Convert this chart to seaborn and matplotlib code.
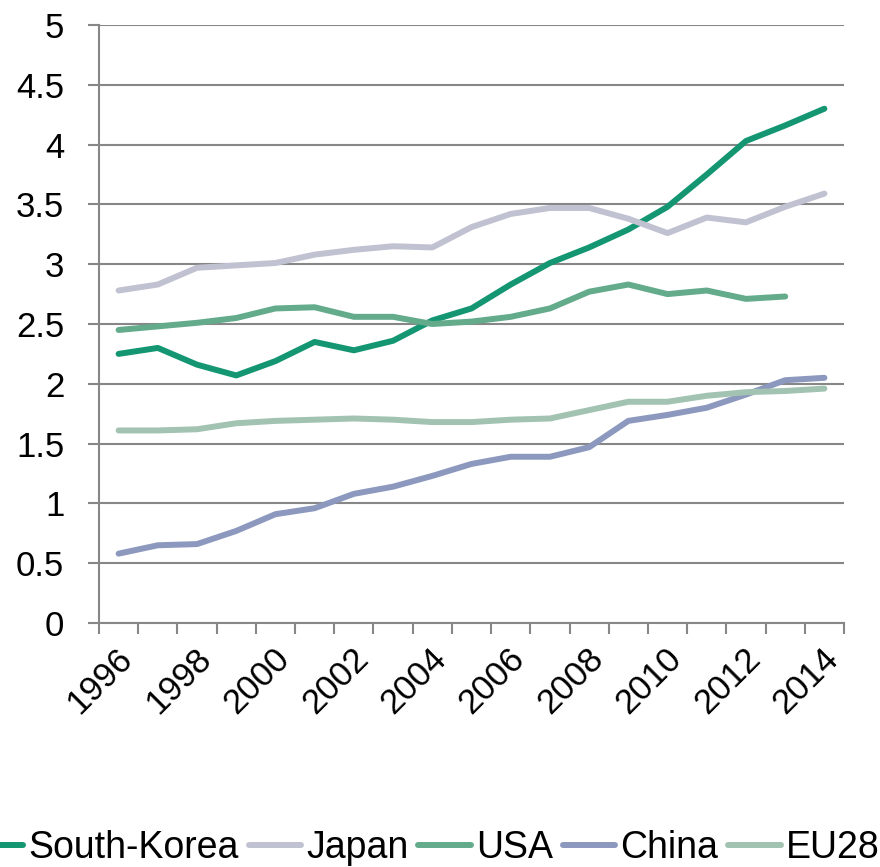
import numpy as np
import pandas as pd
import seaborn as sns
import matplotlib.pyplot as plt
import matplotlib.transforms as mtransforms

years = list(range(1996, 2015))
south_korea = [2.25, 2.30, 2.16, 2.07, 2.19, 2.35, 2.28, 2.36, 2.53, 2.63,
               2.83, 3.01, 3.14, 3.29, 3.48, 3.75, 4.03, 4.16, 4.30]
japan = [2.78, 2.83, 2.97, 2.99, 3.01, 3.08, 3.12, 3.15, 3.14, 3.31,
         3.42, 3.47, 3.47, 3.38, 3.26, 3.39, 3.35, 3.48, 3.59]
usa = [2.45, 2.48, 2.51, 2.55, 2.63, 2.64, 2.56, 2.56, 2.50, 2.52,
       2.56, 2.63, 2.77, 2.83, 2.75, 2.78, 2.71, 2.73, np.nan]
china = [0.58, 0.65, 0.66, 0.77, 0.91, 0.96, 1.08, 1.14, 1.23, 1.33,
         1.39, 1.39, 1.47, 1.69, 1.74, 1.80, 1.91, 2.03, 2.05]
eu28 = [1.61, 1.61, 1.62, 1.67, 1.69, 1.70, 1.71, 1.70, 1.68, 1.68,
        1.70, 1.71, 1.78, 1.85, 1.85, 1.90, 1.93, 1.94, 1.96]

series = ['South-Korea', 'Japan', 'USA', 'China', 'EU28']
colors = ['#139671', '#c0c1d1', '#63ab8b', '#8c98be', '#a2c3b1']
yticks = np.arange(0, 5.01, 0.5)

df = pd.DataFrame({'Year': years, 'South-Korea': south_korea, 'Japan': japan,
                   'USA': usa, 'China': china, 'EU28': eu28})
df = df.melt(id_vars='Year', var_name='Country', value_name='Value').dropna()

sns.set_style('white')
plt.rcParams['font.family'] = ['Liberation Sans', 'DejaVu Sans']
fs = 25
lw = 4.3
grey = '#878787'

fig = plt.figure(figsize=(8.8, 8.67), dpi=100)
ax = fig.add_axes([0.1125, 0.2814, 0.8466, 0.6898])

sns.lineplot(data=df, x='Year', y='Value', hue='Country', hue_order=series,
             palette=colors, linewidth=lw, ax=ax, legend=False,
             solid_capstyle='round')

ax.set_xlim(1995.5, 2014.5)
ax.set_ylim(0, 5)
ax.set_yticks(yticks)
ax.set_yticklabels([f'{v:g}' for v in yticks])
ax.grid(axis='y', color=grey, linewidth=1.5)
ax.set_axisbelow(True)

# year labels every other category, tick marks between categories
ax.set_xticks(years[::2])
ax.set_xticklabels([str(y) for y in years[::2]], rotation=45, ha='right',
                   va='center', rotation_mode='anchor')
ax.set_xticks(np.arange(1995.5, 2015, 1), minor=True)
ax.tick_params(axis='x', which='major', bottom=True, length=0, pad=22,
               labelsize=fs, labelcolor='black')
ax.tick_params(axis='x', which='minor', bottom=True, length=8, width=1.5,
               color=grey, direction='out')
ax.tick_params(axis='y', left=True, length=8, width=1.5, color=grey,
               labelsize=fs, labelcolor='black', direction='out', pad=17)
shift = mtransforms.ScaledTranslation(0.09, 0, fig.dpi_scale_trans)
for lab in ax.get_xticklabels():
    lab.set_transform(lab.get_transform() + shift)

for s in ['top', 'right']:
    ax.spines[s].set_visible(False)
for s in ['left', 'bottom']:
    ax.spines[s].set_color(grey)
    ax.spines[s].set_linewidth(1.5)

ax.set_xlabel('')
ax.set_ylabel('')

handles = [plt.Line2D([], [], color=c, linewidth=lw, solid_capstyle='round')
           for c in colors]
leg = fig.legend(handles, series, loc='center',
                 bbox_to_anchor=(0.483, 1 - 848 / 867), ncol=5, frameon=False,
                 fontsize=27, handlelength=1.4, handletextpad=0.13,
                 columnspacing=0.27)
for t in leg.get_texts():
    t.set_color('black')

fig.savefig('out.png', dpi=100)
